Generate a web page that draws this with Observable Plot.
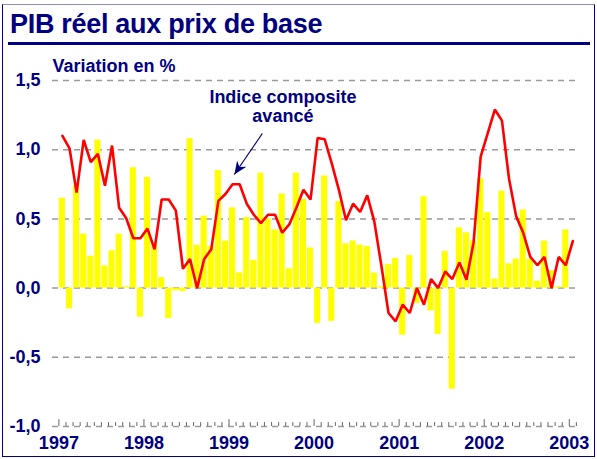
<!DOCTYPE html>
<html><head><meta charset="utf-8">
<script src="https://cdn.jsdelivr.net/npm/d3@7"></script>
<script src="https://cdn.jsdelivr.net/npm/@observablehq/plot@0.6"></script>
<style>
html,body{margin:0;padding:0;background:#fff;}
body{width:597px;height:459px;position:relative;overflow:hidden;font-family:"Liberation Sans",Arial,sans-serif;}
#frame{position:absolute;left:2px;top:4px;width:593px;height:453px;border:1px solid #000080;box-sizing:border-box;border-top-color:#8c8cc0;}
#title{position:absolute;left:10px;top:9px;font-size:27px;font-weight:bold;color:#000080;letter-spacing:-0.3px;white-space:nowrap;}
#rule{position:absolute;left:8px;top:42px;width:582px;height:3px;background:#000080;}
#chart{position:absolute;left:0;top:50px;}
</style></head>
<body>
<div id="frame"></div>
<div id="title">PIB réel aux prix de base</div>
<div id="rule"></div>
<div id="chart"></div>
<script>
// Monthly data, January 1997 onward
const startYear = 1997;
// PIB réel aux prix de base, variation mensuelle en % (72 months: Jan 1997 - Dec 2002)
const pibValues = [
  0.65, -0.15, 0.74, 0.39, 0.23, 1.07, 0.16, 0.27, 0.39, 0.01, 0.87, -0.21,
  0.80, 0.32, 0.075, -0.22, -0.02, -0.025, 1.08, 0.31, 0.52, 0.30, 0.85, 0.34,
  0.58, 0.11, 0.51, 0.20, 0.83, 0.50, 0.42, 0.68, 0.14, 0.83, 0.64, 0.29,
  -0.255, 0.81, -0.24, 0.625, 0.32, 0.34, 0.31, 0.30, 0.11, 0.01, 0.17, 0.215,
  -0.34, 0.235, -0.11, 0.66, -0.165, -0.335, 0.265, -0.73, 0.435, 0.40, 0.34, 0.79,
  0.545, 0.065, 0.70, 0.175, 0.21, 0.565, 0.21, 0.05, 0.34, 0.125, 0.01, 0.42
];
// Indice composite avancé (73 months: Jan 1997 - Jan 2003)
const indiceValues = [
  1.10, 1.01, 0.69, 1.07, 0.91, 0.97, 0.74, 1.03, 0.58, 0.505, 0.36, 0.36,
  0.43, 0.28, 0.64, 0.64, 0.56, 0.14, 0.21, 0.0, 0.21, 0.28, 0.63, 0.68,
  0.75, 0.75, 0.61, 0.53, 0.47, 0.53, 0.53, 0.40, 0.46, 0.58, 0.71, 0.64,
  1.085, 1.075, 0.90, 0.71, 0.49, 0.61, 0.55, 0.67, 0.48, 0.16, -0.18, -0.24,
  -0.12, -0.18, 0.0, -0.12, 0.065, 0.0, 0.12, 0.065, 0.185, 0.06, 0.33, 0.95,
  1.12, 1.29, 1.21, 0.79, 0.52, 0.40, 0.225, 0.165, 0.225, 0.0, 0.225, 0.165,
  0.34
];
const yearLabels = ["1997", "1998", "1999", "2000", "2001", "2002", "2003"];
const yTicks = [-1.0, -0.5, 0.0, 0.5, 1.0, 1.5];
const gridValues = [-1.0, -0.5, 0.0, 0.5, 1.0, 1.5];
const yLabel = "Variation en %";
const annotationText = ["Indice composite\navancé"];
// annotation anchor (month index, value) and arrow (from -> to)
const annotationPos = [{m: 31.6, v: 1.31}];
const arrowPos = [{m1: 28.7, v1: 1.117, m2: 24.75, v2: 0.821}];

const navy = "#000080";
const bars = pibValues.map((v, i) => ({m: i, v}));
const line = indiceValues.map((v, i) => ({m: i + 0.5, v}));
const monthTicks = d3.range(0, indiceValues.length + 1);
const yearTicks = yearLabels.map((_, i) => i * 12);
const fmt = d => d.toFixed(1).replace(".", ",");

const filledArrow = (color, context) => {
  const mk = d3.create("svg:marker")
    .attr("viewBox", "-13 -6 13 12")
    .attr("markerWidth", 13).attr("markerHeight", 12)
    .attr("markerUnits", "userSpaceOnUse")
    .attr("orient", "auto")
    .attr("refX", 0).attr("refY", 0)
    .attr("fill", navy).attr("stroke", "none");
  mk.append("path").attr("d", "M0,0L-13,-5.5L-9,0L-13,5.5Z");
  return mk.node();
};

const plot = Plot.plot({
  width: 597,
  height: 409,
  marginLeft: 52,
  marginRight: 19,
  marginTop: 30,
  marginBottom: 33,
  style: {fontFamily: "'Liberation Sans', Arial, sans-serif", background: "transparent", overflow: "visible"},
  x: {type: "linear", domain: [-0.9, 73.3]},
  y: {domain: [-1, 1.5]},
  marks: [
    Plot.ruleY(gridValues, {stroke: "#9a9a9a", strokeWidth: 1.5, strokeDasharray: "6,5"}),
    Plot.rectY(bars, {x1: "m", x2: d => d.m + 1, y: "v", fill: "#ffff00", insetLeft: 0.5, insetRight: 0.5}),
    Plot.ruleX(monthTicks, {x: d => d, y1: -1, y2: d => (d % 12 === 0 ? -0.95 : -0.972), stroke: "#666", strokeWidth: 1}),
    Plot.line(line, {x: "m", y: "v", stroke: "#ff0000", strokeWidth: 2.6, strokeLinejoin: "miter"}),
    Plot.axisY({ticks: yTicks, tickFormat: fmt, tickSize: 0, tickPadding: 12, fontSize: 18, fontWeight: "bold", fill: navy, label: null}),
    Plot.axisX({ticks: yearTicks, tickFormat: m => yearLabels[m / 12], tickSize: 0, tickPadding: 10, fontSize: 18, fontWeight: "bold", fill: navy, label: null}),
    Plot.text([yLabel], {frameAnchor: "top-left", dy: -9, lineAnchor: "bottom", textAnchor: "start", fontSize: 18, fontWeight: "bold", fill: navy}),
    Plot.text(annotationPos, {x: "m", y: "v", text: () => annotationText[0], lineAnchor: "middle", textAnchor: "middle", lineHeight: 1.05, fontSize: 18, fontWeight: "bold", fill: navy}),
    Plot.link(arrowPos, {x1: "m1", y1: "v1", x2: "m2", y2: "v2", stroke: navy, strokeWidth: 1.2, markerEnd: filledArrow})
  ]
});
document.getElementById("chart").appendChild(plot);
</script>
</body></html>
